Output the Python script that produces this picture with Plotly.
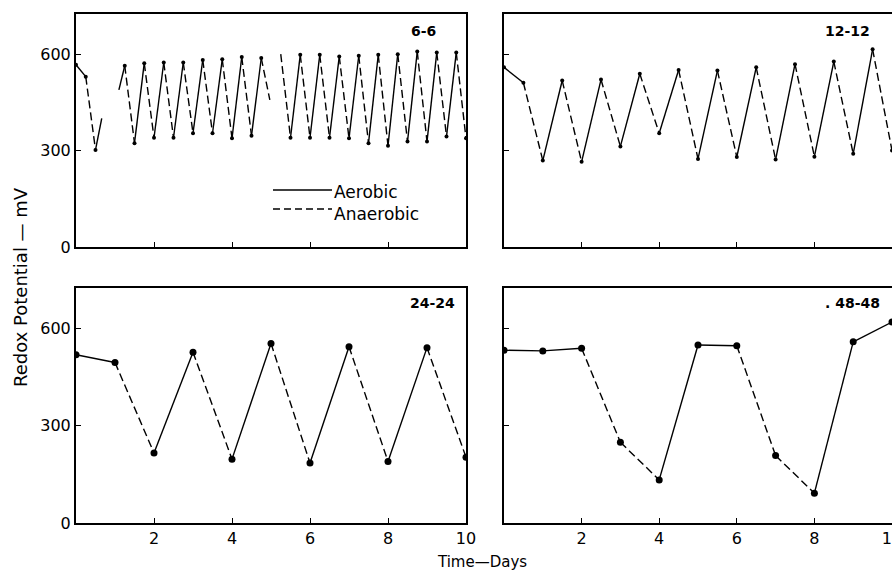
import plotly.graph_objects as go

# ---- data (days, redox potential mV, segment phase: A=aerobic, N=anaerobic, ''=gap) ----
days_66 = [0, 0.25, 0.5, 0.66, 1.1, 1.25, 1.5, 1.75, 2.0, 2.25, 2.5, 2.75, 3.0, 3.25, 3.5,
           3.75, 4.0, 4.25, 4.5, 4.75, 4.97, 5.25, 5.5, 5.75, 6.0, 6.25, 6.5, 6.75, 7.0,
           7.25, 7.5, 7.75, 8.0, 8.25, 8.5, 8.75, 9.0, 9.25, 9.5, 9.75, 10.0]
mv_66 = [567, 530, 302, 400, 489, 564, 323, 572, 340, 574, 340, 574, 354, 582, 354,
         584, 338, 591, 346, 588, 458, 600, 340, 598, 340, 598, 340, 593, 338,
         595, 323, 598, 315, 600, 328, 608, 328, 605, 344, 605, 338]
phase_66 = ['A', 'N', 'A', '', 'A', 'N', 'A', 'N', 'A', 'N', 'A', 'N', 'A', 'N', 'A',
            'N', 'A', 'N', 'A', 'N', '', 'N', 'A', 'N', 'A', 'N', 'A', 'N', 'A',
            'N', 'A', 'N', 'A', 'N', 'A', 'N', 'A', 'N', 'A', 'N']

days_1212 = [0, 0.5, 1.0, 1.5, 2.0, 2.5, 3.0, 3.5, 4.0, 4.5, 5.0, 5.5, 6.0, 6.5, 7.0,
             7.5, 8.0, 8.5, 9.0, 9.5, 10.0]
mv_1212 = [559, 511, 269, 518, 265, 521, 313, 539, 354, 551, 274, 549, 280, 559, 272,
           569, 281, 577, 290, 615, 300]
phase_1212 = ['A', 'N', 'A', 'N', 'A', 'N', 'A', 'N', 'A', 'N', 'A', 'N', 'A', 'N',
              'A', 'N', 'A', 'N', 'A', 'N']

days_2424 = [0, 1, 2, 3, 4, 5, 6, 7, 8, 9, 10]
mv_2424 = [519, 495, 216, 527, 197, 554, 185, 544, 190, 541, 203]
phase_2424 = ['A', 'N', 'A', 'N', 'A', 'N', 'A', 'N', 'A', 'N']

days_4848 = [0, 1, 2, 3, 4, 5, 6, 7, 8, 9, 10]
mv_4848 = [533, 531, 539, 249, 133, 549, 547, 208, 92, 559, 620]
phase_4848 = ['A', 'A', 'N', 'N', 'A', 'A', 'N', 'N', 'A', 'A']

panel_labels = ['6-6', '12-12', '24-24', '. 48-48']
y_ticks = [0, 300, 600]
x_ticks = [2, 4, 6, 8, 10]

W, H = 892, 574
fig = go.Figure()

panels = [
    (days_66, mv_66, phase_66, 'x', 'y', 4),
    (days_1212, mv_1212, phase_1212, 'x2', 'y2', 4),
    (days_2424, mv_2424, phase_2424, 'x3', 'y3', 7),
    (days_4848, mv_4848, phase_4848, 'x4', 'y4', 7),
]

for d, v, ph, xa, ya, ms in panels:
    sx, sy, nx, ny = [], [], [], []
    for i, p in enumerate(ph):
        if p == 'A':
            sx += [d[i], d[i + 1], None]; sy += [v[i], v[i + 1], None]
        elif p == 'N':
            nx += [d[i], d[i + 1], None]; ny += [v[i], v[i + 1], None]
    fig.add_trace(go.Scatter(x=sx, y=sy, mode='lines', xaxis=xa, yaxis=ya,
                             line=dict(color='black', width=1.4), showlegend=False))
    fig.add_trace(go.Scatter(x=nx, y=ny, mode='lines', xaxis=xa, yaxis=ya,
                             line=dict(color='black', width=1.4, dash='8px,4px'),
                             showlegend=False))
    mx, my = [], []
    for i in range(len(d)):
        left_gap = i > 0 and ph[i - 1] == ''
        right_gap = i < len(ph) and ph[i] == ''
        if not (left_gap or right_gap):
            mx.append(d[i]); my.append(v[i])
    fig.add_trace(go.Scatter(x=mx, y=my, mode='markers', xaxis=xa, yaxis=ya,
                             marker=dict(color='black', size=ms), showlegend=False))

# domains (from pixel geometry)
xl = [76 / W, 466 / W]
xr = [504 / W, 1.0]
yt = [1 - 247 / H, 1 - 14 / H]
yb = [1 - 523 / H, 1 - 288 / H]

FAM = 'DejaVu Sans, Liberation Sans, Arial, sans-serif'
font = dict(family=FAM, size=16, color='black')

def xaxis(dom, anchor, labels):
    return dict(domain=dom, anchor=anchor, range=[0, 10], tickvals=x_ticks,
                ticktext=[str(t) for t in x_ticks] if labels else ['' for _ in x_ticks],
                ticks='inside', ticklen=5, tickcolor='black', showline=True,
                linecolor='black', linewidth=2, mirror=True, showgrid=False,
                zeroline=False, tickfont=font, automargin=False,
                ticklabeloverflow='allow')

def yaxis(dom, anchor, labels, mirror):
    return dict(domain=dom, anchor=anchor, range=[0, 725], tickvals=y_ticks,
                ticktext=[str(t) for t in y_ticks] if labels else ['' for _ in y_ticks],
                ticks='inside', ticklen=5, tickcolor='black', showline=True,
                linecolor='black', linewidth=2, mirror=mirror, showgrid=False,
                zeroline=False, tickfont=font, automargin=False)

fig.update_layout(
    width=W, height=H, margin=dict(l=0, r=0, t=0, b=0, autoexpand=False),
    paper_bgcolor='white', plot_bgcolor='white', font=font, showlegend=False,
    xaxis=xaxis(xl, 'y', False), yaxis=yaxis(yt, 'x', True, True),
    xaxis2=xaxis(xr, 'y2', False), yaxis2=yaxis(yt, 'x2', False, False),
    xaxis3=xaxis(xl, 'y3', True), yaxis3=yaxis(yb, 'x3', True, True),
    xaxis4=xaxis(xr, 'y4', True), yaxis4=yaxis(yb, 'x4', False, False),
)

def px(x): return x / W
def py(y): return 1 - y / H

def note(text, x, y, size=15, xanchor='center', angle=0, bold=False):
    fig.add_annotation(x=px(x), y=py(y), xref='paper', yref='paper',
                       text='<b>%s</b>' % text if bold else text,
                       showarrow=False, xanchor=xanchor, yanchor='middle',
                       textangle=angle, font=dict(family=FAM, size=size, color='black'))

# panel labels
for lab, (cx, cy) in zip(panel_labels, [(423, 31), (847, 31), (432, 303), (852, 303)]):
    note(lab, cx, cy, size=14, bold=True)

# legend in first panel
fig.add_shape(type='line', xref='paper', yref='paper', x0=px(273), x1=px(332),
              y0=py(190), y1=py(190), line=dict(color='black', width=1.4))
fig.add_shape(type='line', xref='paper', yref='paper', x0=px(273), x1=px(332),
              y0=py(209), y1=py(209), line=dict(color='black', width=1.4, dash='7px,4px'))
note('Aerobic', 332, 192, size=17, xanchor='left')
note('Anaerobic', 332, 214, size=17, xanchor='left')

# axis titles
note('Redox Potential \u2014 mV', 20, 287, size=18, angle=-90)
note('Time\u2014Days', 482, 562, size=15)

fig.write_html('out.html', post_script="document.body.style.margin='0';",
               config={'displayModeBar': False})
